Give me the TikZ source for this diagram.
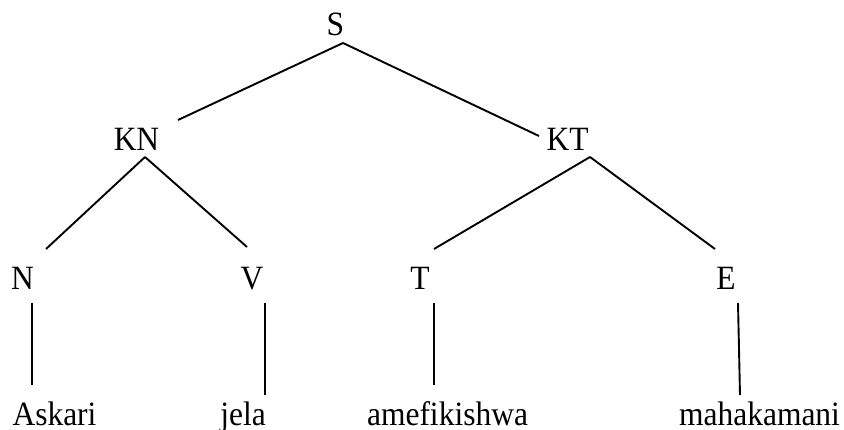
\documentclass[tikz,border=0pt]{standalone}
\usepackage{fontspec}
\setmainfont{Liberation Serif}
\newcommand{\tx}[1]{\scalebox{1}[1.08]{#1}}
\begin{document}
\begin{tikzpicture}[x=1pt,y=-1pt,
  lab/.style={anchor=base,inner sep=0pt,font=\fontsize{31.5}{36}\selectfont},
  edge/.style={line width=1.9pt,black}]
\useasboundingbox (0,0) rectangle (844,430);
\node[lab] (S) at (335.5,36) {\tx{S}};
\node[lab] (KN) at (136.5,151) {\tx{KN}};
\node[lab] (KT) at (567.5,151) {\tx{KT}};
\node[lab] (N) at (22.5,290) {\tx{N}};
\node[lab] (V) at (252,290) {\tx{V}};
\node[lab] (T) at (420,290) {\tx{T}};
\node[lab] (E) at (726,290) {\tx{E}};
\node[lab] (askari) at (54.5,425) {\tx{Askari}};
\node[lab] (jela) at (243,425) {\tx{jela}};
\node[lab] (amef) at (447.5,425) {\tx{amefikishwa}};
\node[lab] (maha) at (759.5,425) {\tx{mahakamani}};
\draw[edge] ([shift={(7.5,7)}]S.base) -- ([shift={(41.5,-31)}]KN.base);
\draw[edge] ([shift={(7.5,7)}]S.base) -- ([shift={(-28.5,-15)}]KT.base);
\draw[edge] ([shift={(8.5,6)}]KN.base) -- ([shift={(23.5,-41)}]N.base);
\draw[edge] ([shift={(8.5,6)}]KN.base) -- ([shift={(-5,-43)}]V.base);
\draw[edge] ([shift={(22.5,6)}]KT.base) -- ([shift={(14,-41)}]T.base);
\draw[edge] ([shift={(22.5,6)}]KT.base) -- ([shift={(-11,-41)}]E.base);
\draw[edge] ([shift={(9.5,13)}]N.base) -- ([shift={(-22.5,-40)}]askari.base);
\draw[edge] ([shift={(13,13)}]V.base) -- ([shift={(22,-30)}]jela.base);
\draw[edge] ([shift={(14,13)}]T.base) -- ([shift={(-13.5,-40)}]amef.base);
\draw[edge] ([shift={(12,13)}]E.base) -- ([shift={(-19.5,-30)}]maha.base);
\end{tikzpicture}
\end{document}
